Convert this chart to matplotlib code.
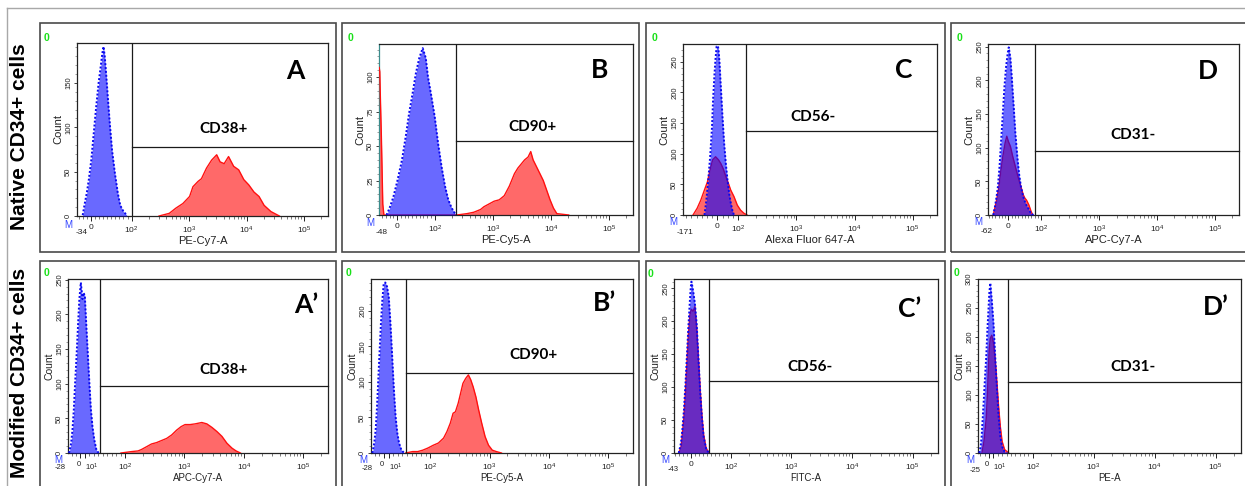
import math
import matplotlib
matplotlib.use("Agg")
import matplotlib.pyplot as plt
from matplotlib.patches import Rectangle
from matplotlib.lines import Line2D
from matplotlib.ticker import FixedLocator, FixedFormatter, MultipleLocator, NullFormatter

plt.rcParams['font.family'] = ['Liberation Sans', 'DejaVu Sans']
plt.rcParams['mathtext.default'] = 'regular'

# ---------------- data ----------------
row_labels = ["Native CD34+ cells", "Modified CD34+ cells"]
panel_letters = ["A", "B", "C", "D", "A’", "B’", "C’", "D’"]
gate_names = ["CD38+", "CD90+", "CD56-", "CD31-", "CD38+", "CD90+", "CD56-", "CD31-"]
channels = ["PE-Cy7-A", "PE-Cy5-A", "Alexa Fluor 647-A", "APC-Cy7-A",
            "APC-Cy7-A", "PE-Cy5-A", "FITC-A", "PE-A"]
x_min = [-34, -48, -171, -62, -28, -28, -43, -25]
X_MAX = 262143
y_max = [195, 124, 279, 254, 251, 245, 264, 300]
y_tick_step = [50, 25, 50, 50, 50, 50, 50, 50]
gate_start = [100, 233, 136, 81, 43, 47, 45, 43]
gate_level = [78, 54, 137, 95, 96, 113, 109, 122]
label_ten = [False, False, False, False, True, True, False, True]

# blue = control histogram, red = stained histogram (fluorescence, count)
blue_x_A = [-20, -15, -10, -5, 1, 7, 13, 19, 24, 28, 31, 34, 38, 42, 47, 52, 59, 66, 72, 80, 88]
blue_y_A = [1, 14, 26, 41, 63, 93, 123, 150, 168, 183, 191, 180, 157, 131, 101, 74, 48, 26, 12, 5, 1]
red_x_A = [300, 452, 593, 778, 1021, 1167, 1432, 1641, 2012, 2468, 3025, 3467, 4080, 4866,
           5969, 7311, 8970, 10970, 13480, 16520, 20240, 26600, 37300]
red_y_A = [0, 3, 9, 14, 22, 33, 39, 42, 54, 63, 69, 61, 59, 67, 56, 52, 41, 35, 27, 22, 12, 5, 0]

blue_x_B = [-28, -20, -10, 1, 13, 23, 32, 41, 50, 59, 68, 76, 82, 91, 100, 114, 131, 150, 171, 196, 224]
blue_y_B = [0, 5, 13, 25, 40, 57, 74, 88, 103, 114, 121, 114, 100, 86, 71, 52, 35, 21, 11, 5, 1]
red_x_B = [-47.5, -46, -44, -42, -40, -38, -35, 240, 360, 471, 616, 704, 862, 1055, 1291, 1580,
           1934, 2367, 2709, 3100, 3547, 4059, 4518, 4962, 5680, 6500, 7433, 8504, 9732,
           11140, 12740, 20400]
red_y_B = [107, 104, 81, 60, 35, 8, 0, 0, 1, 2, 4, 6, 8, 10, 11, 14, 21, 30, 34, 37, 40, 42, 46,
           40, 35, 30, 25, 18, 11, 5, 1, 0]

blue_x_C = [-62, -53, -44, -35, -26, -21, -14, -9, -4, 2, 5, 10, 16, 24, 32, 40, 48, 56, 64, 71, 79]
blue_y_C = [0, 24, 57, 95, 144, 188, 231, 256, 275, 276, 270, 248, 210, 161, 117, 84, 57, 35, 19, 8, 0]
red_x_C = [-115, -97, -80, -62, -48, -35, -23, -9, 5, 16, 27, 40, 52, 63, 79, 95, 109, 124, 141]
red_y_C = [0, 11, 24, 41, 54, 74, 90, 95, 90, 84, 76, 63, 52, 41, 30, 16, 8, 3, 0]

blue_x_D = [-46, -41, -36, -32, -27, -22, -17, -12, -7, -2, 1, 6, 10, 16, 21, 27, 32, 38, 45, 52, 60, 69, 76]
blue_y_D = [0, 12, 27, 42, 72, 112, 151, 191, 221, 241, 249, 233, 206, 161, 122, 87, 62, 42, 27, 17, 10, 2, 0]
red_x_D = [-46, -36, -29, -24, -17, -10, -5, 0, 6, 13, 21, 29, 38, 45, 50, 55, 62, 69, 74]
red_y_D = [0, 22, 42, 62, 87, 107, 117, 109, 102, 87, 72, 57, 42, 30, 25, 22, 15, 5, 0]

blue_x_A2 = [-25.6, -21, -18, -15, -12, -8.8, -5.6, -2.5, 0.8, 4.5, 6.8, 9.8, 12, 16, 20, 23.5, 27, 31, 36, 41]
blue_y_A2 = [0, 14, 33, 62, 101, 140, 183, 222, 246, 222, 231, 227, 198, 149, 101, 62, 38, 19, 4, 0]
red_x_A2 = [91, 128, 166, 189, 230, 279, 340, 413, 502, 610, 741, 879, 1026, 1247, 1516, 1965,
            2388, 2902, 3528, 4288, 5212, 6334, 7410, 8780]
red_y_A2 = [0, 2, 3, 5, 9, 13, 15, 18, 21, 26, 33, 38, 41, 41, 42, 44, 42, 37, 31, 24, 14, 7, 3, 0]

blue_x_B2 = [-25, -21, -18, -15, -12, -9.3, -6.5, -3.5, -0.5, 3, 6.7, 10.4, 14, 17.8, 21.5, 25.2,
             28.9, 32.6, 37.8, 43.7]
blue_y_B2 = [0, 14, 32, 65, 107, 145, 183, 215, 239, 240, 234, 220, 183, 136, 89, 51, 28, 14, 4, 0]
red_x_B2 = [47, 62, 73, 84, 95, 113, 137, 168, 191, 218, 243, 266, 296, 325, 356, 396, 440, 483,
            530, 589, 654, 738, 842, 961, 1112, 1303, 1589]
red_y_B2 = [0, 2, 2, 4, 7, 11, 14, 21, 30, 42, 56, 58, 70, 84, 98, 105, 110, 103, 93, 79, 61, 42,
            23, 11, 4, 2, 0]

blue_x_C2 = [-31, -25.5, -22, -18, -14, -10.6, -6.8, -2.9, -0.7, 0.9, 3.5, 6.1, 9.6, 14, 18.4,
             22.8, 27.2, 31.6, 37.7, 44.7]
blue_y_C2 = [0, 15, 35, 65, 106, 146, 191, 232, 252, 260, 252, 242, 227, 197, 146, 95, 55, 25, 7, 0]
red_x_C2 = [-31, -25, -18, -14, -10.6, -6.8, -2.9, 0.9, 5, 9.6, 14, 18.4, 22.8, 27.2, 31.6, 37.7, 44.7]
red_y_C2 = [0, 10, 55, 95, 135, 180, 210, 218, 215, 222, 190, 145, 98, 58, 28, 8, 0]

blue_x_D2 = [-22, -19, -16.7, -14, -11.4, -8.9, -6.2, -3.6, -1.1, 0.7, 3.1, 6.4, 10.3, 14.3, 18.3,
             22, 26, 30, 35.7, 42]
blue_y_D2 = [0, 11, 28, 63, 97, 132, 166, 212, 247, 275, 293, 264, 224, 166, 109, 63, 28, 11, 2, 0]
red_x_D2 = [-16, -11.4, -6.2, -3.6, -1.1, 0.7, 3.1, 6.4, 10.3, 14.3, 18.3, 22, 26, 30, 35.7, 42, 45]
red_y_D2 = [0, 20, 60, 100, 150, 180, 198, 203, 190, 160, 120, 80, 45, 20, 6, 2, 0]

blue_x = [blue_x_A, blue_x_B, blue_x_C, blue_x_D, blue_x_A2, blue_x_B2, blue_x_C2, blue_x_D2]
blue_y = [blue_y_A, blue_y_B, blue_y_C, blue_y_D, blue_y_A2, blue_y_B2, blue_y_C2, blue_y_D2]
red_x = [red_x_A, red_x_B, red_x_C, red_x_D, red_x_A2, red_x_B2, red_x_C2, red_x_D2]
red_y = [red_y_A, red_y_B, red_y_C, red_y_D, red_y_A2, red_y_B2, red_y_C2, red_y_D2]

# ---------------- layout ----------------
W, H = 1245, 486
axes_px = [(77, 43, 328, 216), (379, 44, 633, 215), (683, 44, 937, 215), (988, 44, 1239, 215),
           (68, 279, 328, 453), (371, 279, 633, 453), (674, 279, 938, 453), (978, 279, 1241, 453)]
lin_decades = [0.71, 0.65, 0.36, 0.57, 0.75, 0.78, 0.655, 0.72]
box_px = [(40, 23, 336, 252), (342, 23, 639, 252), (646, 23, 945, 252), (951, 23, 1262, 252),
          (40, 261, 336, 500), (342, 261, 639, 500), (646, 261, 945, 500), (951, 261, 1262, 500)]
letter_pos = [(0.87, 0.84), (0.87, 0.85), (0.87, 0.85), (0.875, 0.84),
              (0.915, 0.85), (0.893, 0.86), (0.894, 0.83), (0.905, 0.84)]
name_pos = [(0.585, 0.503), (0.606, 0.515), (0.51, 0.573), (0.578, 0.468),
            (0.60, 0.477), (0.62, 0.563), (0.515, 0.494), (0.59, 0.494)]
zero_px = [(47, 38), (351, 38), (654, 38), (959, 38), (47, 273), (348, 273), (651, 274), (956, 273)]
m_px = [(68, 225), (370, 223), (673, 222), (978, 222), (58, 460), (363, 460), (665, 460), (970, 460)]
min_label_off = [(5, -17), (3, -17), (2, -17), (-1, -16), (-8, -14), (-4, -15), (-1, -16), (-3, -17)]
minor_step = [10, 10, 25, 10, 10, 10, 10, 10]


def frac(x, y):
    return x / W, 1 - y / H


fig = plt.figure(figsize=(W / 100, H / 100), dpi=100)
fig.patch.set_facecolor('white')

# outer light frame
fig.add_artist(Line2D([7 / W, 1.0], [1 - 8.5 / H] * 2, transform=fig.transFigure,
                      color='#a8a8a8', lw=1.0))
fig.add_artist(Line2D([7 / W] * 2, [1 - 8.5 / H, 0], transform=fig.transFigure,
                      color='#a8a8a8', lw=1.0))

# panel boxes
for (x0, y0, x1, y1) in box_px:
    fig.add_artist(Rectangle((x0 / W, 1 - y1 / H), (x1 - x0) / W, (y1 - y0) / H,
                             transform=fig.transFigure, fill=False, ec='#4a4a4a',
                             lw=1.2, clip_on=False))

# row labels
fig.text(20 / W, 1 - 137 / H, row_labels[0], rotation=90, ha='center', va='center',
         fontsize=15, fontweight='bold', color='black')
fig.text(20 / W, 1 - 373 / H, row_labels[1], rotation=90, ha='center', va='center',
         fontsize=15, fontweight='bold', color='black')

for i in range(8):
    top = i < 4
    x0, y0, x1, y1 = axes_px[i]
    ax = fig.add_axes([x0 / W, 1 - y1 / H, (x1 - x0) / W, (y1 - y0) / H])
    ax.set_xscale('symlog', linthresh=100, linscale=lin_decades[i] * 0.9, base=10)
    ax.set_xlim(x_min[i], X_MAX)
    ax.set_ylim(0, y_max[i])

    ax.fill_between(red_x[i], red_y[i], 0, color='#ff0000', alpha=0.59, lw=0, zorder=2)
    ax.plot(red_x[i], red_y[i], color='#ff1010', lw=1.0, zorder=3)
    ax.fill_between(blue_x[i], blue_y[i], 0, color='#0000ff', alpha=0.59, lw=0, zorder=4)
    ax.plot(blue_x[i], blue_y[i], color='#0808f0', lw=1.4, ls=(0, (1, 1)), zorder=5)

    # interval gate
    ax.axvline(gate_start[i], color='#1a1a1a', lw=0.9, zorder=6)
    ax.plot([gate_start[i], X_MAX], [gate_level[i], gate_level[i]], color='#1a1a1a',
            lw=0.9, zorder=6, clip_on=False)

    ax.text(*name_pos[i], gate_names[i], transform=ax.transAxes, ha='center', va='center',
            fontsize=11, fontweight='bold', family=['Lato', 'DejaVu Sans'])
    ax.text(*letter_pos[i], panel_letters[i], transform=ax.transAxes, ha='center', va='center',
            fontsize=19, fontweight='bold', family=['Lato', 'DejaVu Sans'])

    # x ticks
    majors = [0, 100, 1e3, 1e4, 1e5]
    labels = ['0', '$10^2$', '$10^3$', '$10^4$', '$10^5$']
    if label_ten[i]:
        majors.insert(1, 10)
        labels.insert(1, '$10^1$')
    ax.xaxis.set_major_locator(FixedLocator(majors))
    ax.xaxis.set_major_formatter(FixedFormatter(labels))
    st = minor_step[i]
    lin_minor = [v for v in range(int(math.ceil(x_min[i] / st)) * st, 100, st) if v != 0]
    log_minor = [k * 10 ** e for e in range(2, 6) for k in range(2, 10) if k * 10 ** e < X_MAX]
    ax.xaxis.set_minor_locator(FixedLocator(lin_minor + log_minor))
    ax.xaxis.set_minor_formatter(NullFormatter())
    ax.tick_params(axis='x', which='major', length=3.5, width=0.7, labelsize=6, pad=2.5,
                   colors='#222222', direction='out')
    ax.tick_params(axis='x', which='minor', length=2, width=0.5, colors='#444444')
    if label_ten[i]:
        xt = ax.get_xticklabels()
        xt[0].set_ha('right')
        xt[1].set_ha('left')
        xt[0].set_fontsize(5.5)
        xt[1].set_fontsize(5.5)
    ax.annotate(str(x_min[i]), xy=(0, 0), xycoords='axes fraction',
                xytext=min_label_off[i], textcoords='offset pixels',
                ha='center', va='center', fontsize=6 if top else 5.5, color='#222222')

    # y ticks
    ax.yaxis.set_major_locator(MultipleLocator(y_tick_step[i]))
    ax.yaxis.set_minor_locator(MultipleLocator(y_tick_step[i] / 5))
    ax.tick_params(axis='y', which='major', length=2.5, width=0.6, labelsize=5.5, pad=1,
                   colors='#222222', labelrotation=90)
    ax.tick_params(axis='y', which='minor', length=1.2, width=0.4, colors='#555555')
    for lbl in ax.get_yticklabels():
        lbl.set_va('center')

    ax.set_xlabel(channels[i], fontsize=8 if top else 7, labelpad=0, color='#222222')
    ax.set_ylabel('Count', fontsize=8 if top else 7.5, labelpad=1, color='#222222')

    for s in ax.spines.values():
        s.set_color('#222222')
        s.set_linewidth(0.9)
    if i == 1:
        ax.spines['left'].set_color('#3a8c8c')

    zx, zy = frac(*zero_px[i])
    fig.text(zx, zy, '0', color='#19e019', fontsize=7.5, fontweight='bold', ha='center', va='center')
    mx, my = frac(*m_px[i])
    fig.text(mx, my, 'M', color='#3344ff', fontsize=7, ha='center', va='center')

fig.savefig('out.png', dpi=100)
